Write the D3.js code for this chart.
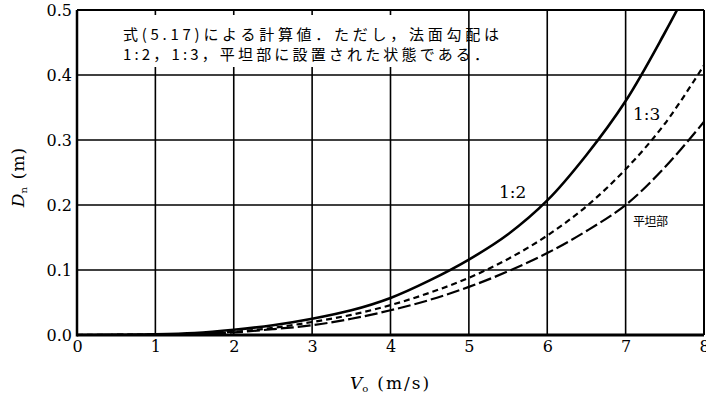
<!DOCTYPE html>
<html><head><meta charset="utf-8">
<script src="https://cdn.jsdelivr.net/npm/d3@7"></script>
<style>body{margin:0;background:#fff}svg{display:block}
svg text{fill:#000;font-family:"DejaVu Serif","Liberation Serif",serif}
svg text.jp{font-family:"Noto Sans CJK JP",sans-serif}</style>
</head><body>
<svg id="c" width="706" height="398"></svg>
<script>
// ---- data ----
const xTicks = [0,1,2,3,4,5,6,7,8];
const yTicks = [0.0,0.1,0.2,0.3,0.4,0.5];
const vel = [0,1,1.5,2,2.5,3,3.5,4,4.5,5,5.5,6,6.5,7,7.5,8];
const d12 = [0,0.001,0.003,0.008,0.015,0.025,0.038,0.057,0.084,0.116,0.155,0.207,0.277,0.36,0.465,0.58];
const d13 = [0,0.001,0.002,0.005,0.011,0.02,0.031,0.046,0.065,0.088,0.117,0.153,0.198,0.255,0.325,0.415];
const dFlat = [0,0.0005,0.002,0.004,0.009,0.015,0.025,0.038,0.054,0.074,0.098,0.126,0.16,0.2,0.258,0.328];
const note1 = "式(5.17)による計算値．ただし，法面勾配は";
const note2 = "1:2，1:3，平坦部に設置された状態である．";

const svg = d3.select("#c");
const x = d3.scaleLinear().domain([0,8]).range([77,704]);
const y = d3.scaleLinear().domain([0,0.5]).range([335,10]);

const g = svg.append("g");
g.selectAll(".vx").data(xTicks).join("line")
  .attr("x1",d=>x(d)).attr("x2",d=>x(d)).attr("y1",y(0)).attr("y2",y(0.5))
  .attr("stroke","#000").attr("stroke-width",1.6);
g.selectAll(".hy").data(yTicks).join("line")
  .attr("x1",x(0)).attr("x2",x(8)).attr("y1",d=>y(d)).attr("y2",d=>y(d))
  .attr("stroke","#000").attr("stroke-width",1.6);
svg.append("line").attr("x1",x(0)).attr("x2",x(8)).attr("y1",y(0)).attr("y2",y(0)).attr("stroke","#000").attr("stroke-width",3);
svg.append("line").attr("x1",x(0)).attr("x2",x(0)).attr("y1",y(0)+1.5).attr("y2",y(0.5)).attr("stroke","#000").attr("stroke-width",2.5);
svg.append("line").attr("x1",x(0)).attr("x2",x(8)).attr("y1",y(0.5)).attr("y2",y(0.5)).attr("stroke","#000").attr("stroke-width",2);
svg.append("line").attr("x1",x(8)).attr("x2",x(8)).attr("y1",y(0)).attr("y2",y(0.5)).attr("stroke","#000").attr("stroke-width",2);

const xa = svg.append("g").attr("transform",`translate(0,${y(0)})`)
  .call(d3.axisBottom(x).tickValues(xTicks).tickSize(0).tickPadding(6).tickFormat(d3.format("d")));
const ya = svg.append("g").attr("transform",`translate(${x(0)},0)`)
  .call(d3.axisLeft(y).tickValues(yTicks).tickSize(0).tickPadding(5).tickFormat(d3.format(".1f")));
[xa,ya].forEach(a=>{a.select(".domain").remove();a.attr("font-family",null).attr("font-size",null);
  a.selectAll("text").style("font-size","16px").attr("fill","#000");});

svg.append("rect").attr("x",118).attr("y",15).attr("width",348).attr("height",52).attr("fill","#fff");
svg.append("text").attr("class","jp").attr("x",123).attr("y",40).style("font-size","15px")
  .attr("textLength",376).attr("lengthAdjust","spacing").text(note1);
svg.append("text").attr("class","jp").attr("x",123).attr("y",60).style("font-size","15px")
  .attr("textLength",366).attr("lengthAdjust","spacing").text(note2);

const line = d3.line().x(d=>x(d[0])).y(d=>y(d[1])).curve(d3.curveCatmullRom.alpha(0.5));
const zip = (a,b)=>a.map((v,i)=>[v,b[i]]);
svg.append("clipPath").attr("id","pc").append("rect")
  .attr("x",x(0)).attr("y",y(0.5)).attr("width",x(8)-x(0)).attr("height",y(0)-y(0.5));
const cg = svg.append("g").attr("clip-path","url(#pc)");
cg.append("path").attr("d",line(zip(vel,d12))).attr("fill","none").attr("stroke","#000").attr("stroke-width",2.6);
cg.append("path").attr("d",line(zip(vel,d13))).attr("fill","none").attr("stroke","#000").attr("stroke-width",2.2).attr("stroke-dasharray","6,4");
cg.append("path").attr("d",line(zip(vel,dFlat))).attr("fill","none").attr("stroke","#000").attr("stroke-width",2.2).attr("stroke-dasharray","13,4");

const lab = (t,xx,yy)=>svg.append("text").attr("x",xx).attr("y",yy).style("font-size","17px").text(t);
lab("1:2",499,198);
lab("1:3",633,120);
svg.append("text").attr("class","jp").attr("x",633).attr("y",226).style("font-size","12px")
  .attr("textLength",35).attr("lengthAdjust","spacing").text("平坦部");

const xt = svg.append("text").attr("x",350).attr("y",389).style("font-size","17px");
xt.append("tspan").style("font-style","italic").text("V");
xt.append("tspan").style("font-size","10px").attr("dy",3).text("o");
xt.append("tspan").attr("dy",-3).attr("dx",9).style("letter-spacing","2px").text("(m/s)");
const yt = svg.append("text").attr("transform","translate(24,177) rotate(-90)").attr("text-anchor","middle")
  .style("font-size","17px");
yt.append("tspan").style("font-style","italic").text("D");
yt.append("tspan").style("font-size","10px").attr("dy",3).text("n");
yt.append("tspan").attr("dy",-3).attr("dx",8).style("letter-spacing","1px").text("(m)");
</script>
</body></html>
